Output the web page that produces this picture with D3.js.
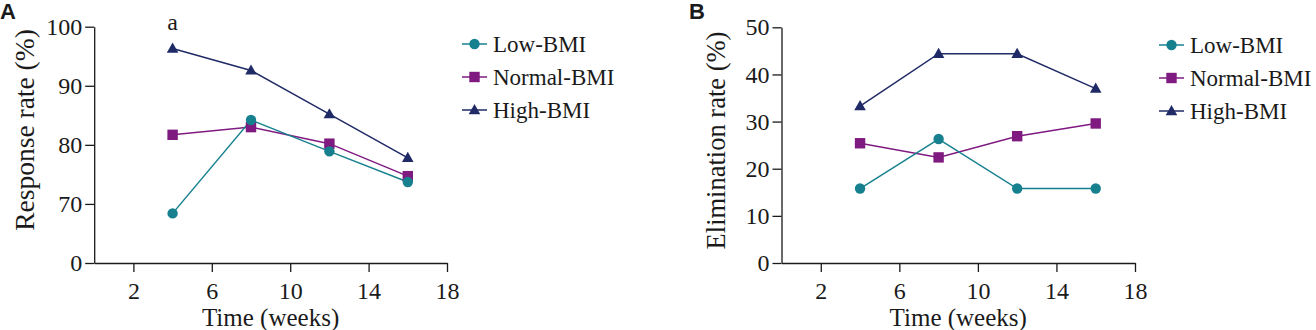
<!DOCTYPE html>
<html><head><meta charset="utf-8">
<script src="https://cdn.jsdelivr.net/npm/d3@7"></script>
<style>
body{margin:0;background:#fff;}
svg text{font-family:"Liberation Serif","DejaVu Serif",serif;fill:#1a1a1a;}
</style></head>
<body><svg id="c" width="1316" height="330"></svg>
<script>
const weeks = [4, 8, 12, 16];
const seriesNames = ["Low-BMI", "Normal-BMI", "High-BMI"];
const responseLow = [68.4, 84.2, 78.9, 73.7];
const responseNormal = [81.7, 83.0, 80.2, 74.7];
const responseHigh = [96.3, 92.6, 85.2, 77.8];
const elimLow = [15.8, 26.3, 15.8, 15.8];
const elimNormal = [25.4, 22.4, 26.9, 29.6];
const elimHigh = [33.3, 44.4, 44.4, 37.0];
const xTicks = [2, 6, 10, 14, 18];
const yTicksA = [60, 70, 80, 90, 100];
const yTickLabelsA = ["0", "70", "80", "90", "100"];
const yTicksB = [0, 10, 20, 30, 40, 50];
const colors = ["#17808f", "#7f1a80", "#1f2a66"];
const shapes = ["circle", "square", "triangle"];
const SERIF = '"Liberation Serif", "DejaVu Serif", serif';

const svg = d3.select("#c");

function drawMarker(g, shape, x, y, color) {
  if (shape === "circle") g.append("circle").attr("cx", x).attr("cy", y).attr("r", 5.2).attr("fill", color);
  else if (shape === "square") g.append("rect").attr("x", x - 5.2).attr("y", y - 5.2).attr("width", 10.4).attr("height", 10.4).attr("fill", color);
  else g.append("path").attr("d", `M${x},${y-6}L${x+5.8},${y+4.2}L${x-5.8},${y+4.2}Z`).attr("fill", color);
}

function panel(opts) {
  const g = svg.append("g");
  const x = d3.scaleLinear().domain([0, 18]).range(opts.xr);
  const y = d3.scaleLinear().domain(opts.yd).range([263, opts.ytop]);
  const xa = d3.axisBottom(x).tickValues(xTicks).tickSize(9).tickPadding(10).tickSizeOuter(0);
  const gx = g.append("g").attr("transform", "translate(0,263)").call(xa);
  gx.attr("font-family", null).attr("font-size", null);
  gx.select(".domain").attr("stroke", "#1a1a1a").attr("stroke-width", 1.3);
  gx.selectAll(".tick line").attr("stroke", "#1a1a1a").attr("stroke-width", 1.3);
  gx.selectAll(".tick text").attr("font-family", "Liberation Serif").style("font-size", "24px").style("font-family", SERIF).attr("fill", "#1a1a1a");
  const ya = d3.axisLeft(y).tickValues(opts.yt).tickFormat((d, i) => opts.yl[i]).tickSize(9).tickPadding(3).tickSizeOuter(0);
  const gy = g.append("g").attr("transform", `translate(${opts.xr[0]},0)`).call(ya);
  gy.attr("font-family", null).attr("font-size", null);
  gy.select(".domain").attr("stroke", "#1a1a1a").attr("stroke-width", 1.3);
  gy.selectAll(".tick line").attr("stroke", "#1a1a1a").attr("stroke-width", 1.3);
  gy.selectAll(".tick text").attr("font-family", "Liberation Serif").style("font-size", "24px").style("font-family", SERIF).attr("fill", "#1a1a1a");

  const line = d3.line().x((d, i) => x(weeks[i])).y(d => y(d));
  const order = [2, 1, 0];
  order.forEach(k => {
    g.append("path").datum(opts.data[k]).attr("d", line).attr("fill", "none").attr("stroke", colors[k]).attr("stroke-width", 1.5);
  });
  order.forEach(k => {
    opts.data[k].forEach((v, i) => drawMarker(g, shapes[k], x(weeks[i]), y(v), colors[k]));
  });

  g.append("text").attr("x", (opts.xr[0] + opts.xr[1]) / 2).attr("y", 326).attr("text-anchor", "middle").style("font-size", "25px").text("Time (weeks)");
  g.append("text").attr("transform", `translate(${opts.ytx},${opts.yty}) rotate(-90)`).attr("text-anchor", "middle").style("font-size", opts.ytfs + "px").text(opts.ytitle);
  g.append("text").attr("x", opts.lx).attr("y", 19).style("font-weight", "bold").style("font-size", "22px").style("font-family", "Liberation Sans, Arial, sans-serif").text(opts.letter);

  // legend
  const lg = g.append("g");
  seriesNames.forEach((n, k) => {
    const ly = opts.legY + k * 33;
    lg.append("line").attr("x1", opts.legX).attr("x2", opts.legX + 25).attr("y1", ly).attr("y2", ly).attr("stroke", colors[k]).attr("stroke-width", 1.5);
    drawMarker(lg, shapes[k], opts.legX + 12.5, ly, colors[k]);
    lg.append("text").attr("x", opts.legX + 31).attr("y", ly + 8).style("font-size", "23px").text(n);
  });
  return {g, x, y};
}

const A = panel({xr: [94.2, 447], yd: [60, 100], ytop: 26.7, yt: yTicksA, yl: yTickLabelsA,
  data: [responseLow, responseNormal, responseHigh], ytitle: "Response rate (%)", ytfs: 27.5, ytx: 34, yty: 130,
  letter: "A", lx: 0, legX: 462, legY: 44});
A.g.append("text").attr("x", A.x(4)).attr("y", 30).attr("text-anchor", "middle").style("font-size", "24px").text("a");

panel({xr: [781.5, 1135], yd: [0, 50], ytop: 27.3, yt: yTicksB, yl: yTicksB.map(String),
  data: [elimLow, elimNormal, elimHigh], ytitle: "Elimination rate (%)", ytfs: 26.5, ytx: 725, yty: 140.5,
  letter: "B", lx: 689, legX: 1159, legY: 45});
</script></body></html>
